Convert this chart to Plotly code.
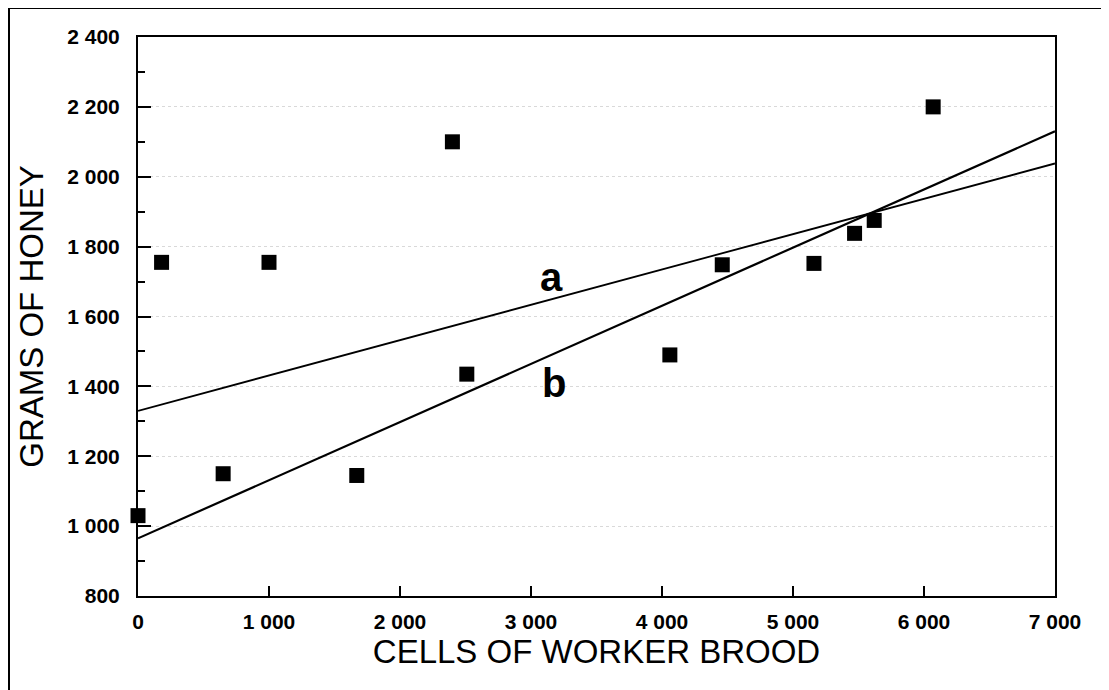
import plotly.graph_objects as go

# Data
brood_cells = [0, 180, 650, 1000, 1670, 2400, 2510, 4060, 4460, 5160, 5470, 5620, 6070]
honey_grams = [1030, 1755, 1150, 1755, 1145, 2100, 1435, 1490, 1748, 1752, 1838, 1875, 2200]

# Regression lines (endpoints at x=0 and x=7000)
line_x = [0, 7000]
line_a_y = [1330, 2038]
line_b_y = [965, 2130]

x_tickvals = [0, 1000, 2000, 3000, 4000, 5000, 6000, 7000]
x_ticktext = ["0", "1 000", "2 000", "3 000", "4 000", "5 000", "6 000", "7 000"]
y_tickvals = [800, 1000, 1200, 1400, 1600, 1800, 2000, 2200, 2400]
y_ticktext = ["800", "1 000", "1 200", "1 400", "1 600", "1 800", "2 000", "2 200", "2 400"]

# page has an 8px body margin, so the figure is slightly smaller than the window
W, H = 1101, 682
ML, MR, MT, MB = 130, 54, 29, 94
PW, PH = W - ML - MR, H - MT - MB

FONT = "Liberation Sans, Arial, Helvetica, sans-serif"

fig = go.Figure()
fig.add_trace(go.Scatter(x=line_x, y=line_a_y, mode="lines",
                         line=dict(color="black", width=1.8), showlegend=False))
fig.add_trace(go.Scatter(x=line_x, y=line_b_y, mode="lines",
                         line=dict(color="black", width=2.2), showlegend=False))
fig.add_trace(go.Scatter(x=brood_cells, y=honey_grams, mode="markers",
                         marker=dict(symbol="square", size=15, color="black"),
                         showlegend=False, cliponaxis=False))

fig.add_annotation(x=3160, y=1712, text="a", showarrow=False,
                   font=dict(family=FONT, size=40, color="black", weight="bold"))
fig.add_annotation(x=3175, y=1410, text="b", showarrow=False,
                   font=dict(family=FONT, size=40, color="black", weight="bold"))

def px2paper_x(px):
    return (px - ML) / PW

def px2paper_y(py):
    return (H - MB - py) / PH

fig.add_shape(type="rect", xref="paper", yref="paper",
              x0=px2paper_x(1), x1=px2paper_x(1099),
              y0=px2paper_y(700), y1=px2paper_y(0),
              line=dict(color="black", width=2), fillcolor="rgba(0,0,0,0)", layer="below")

fig.update_xaxes(range=[0, 7000], tickvals=x_tickvals, ticktext=x_ticktext,
                 ticks="inside", ticklen=10, tickwidth=1.5, tickcolor="black",
                 showline=True, linecolor="black", linewidth=2, mirror=True,
                 showgrid=False, zeroline=False,
                 ticklabelstandoff=6,
                 tickfont=dict(family=FONT, size=21, color="black", weight="bold"),
                 title=dict(text="CELLS OF WORKER BROOD", standoff=4,
                            font=dict(family=FONT, size=33, color="black")))
fig.update_yaxes(range=[800, 2400], tickvals=y_tickvals, ticktext=y_ticktext,
                 ticks="inside", ticklen=13, tickwidth=1.5, tickcolor="black",
                 showline=True, linecolor="black", linewidth=2, mirror=True,
                 showgrid=True, gridcolor="#d9d9d9", griddash="dot", gridwidth=1,
                 zeroline=False,
                 minor=dict(dtick=100, tick0=800, ticks="inside", ticklen=7,
                            tickwidth=1.5, tickcolor="black", showgrid=False),
                 tickfont=dict(family=FONT, size=21, color="black", weight="bold"),
                 ticklabelstandoff=12,
                 title=dict(text="GRAMS OF HONEY", standoff=14,
                            font=dict(family=FONT, size=33, color="black")))

fig.update_layout(width=W, height=H, margin=dict(l=ML, r=MR, t=MT, b=MB),
                  plot_bgcolor="white", paper_bgcolor="white")

fig.write_html("out.html")
